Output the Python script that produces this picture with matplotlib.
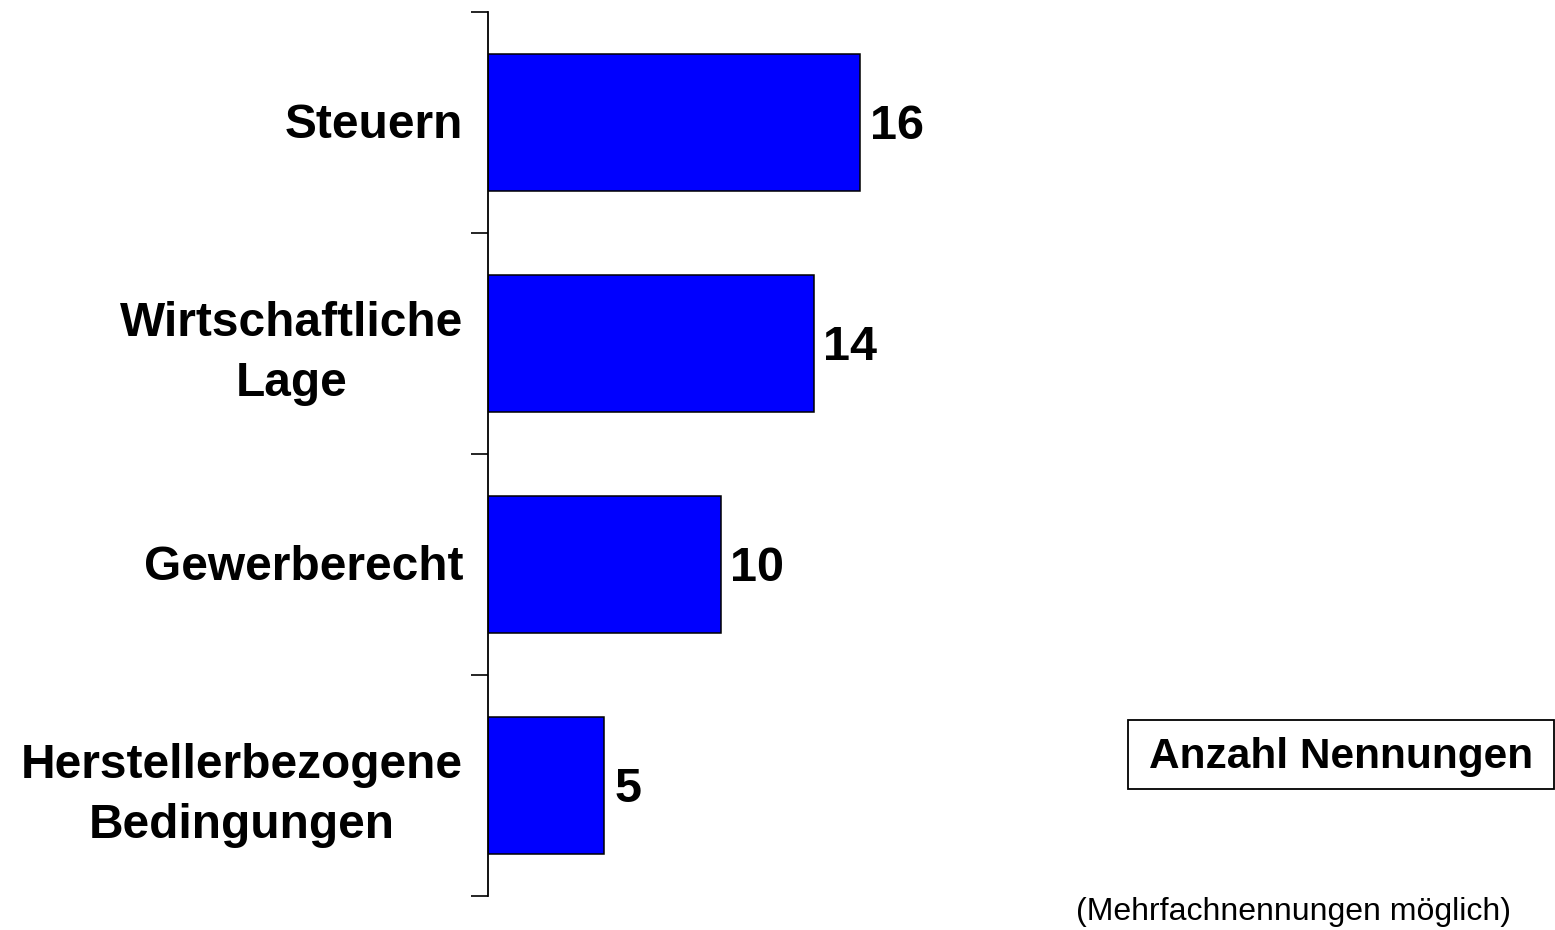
import matplotlib.pyplot as plt
from matplotlib.patches import Rectangle

categories = ["Steuern", "Wirtschaftliche\nLage", "Gewerberecht", "Herstellerbezogene\nBedingungen"]
values = [16, 14, 10, 5]
box_label = "Anzahl Nennungen"
note = "(Mehrfachnennungen möglich)"

plt.rcParams['font.family'] = ['Liberation Sans', 'DejaVu Sans']

W, H = 1555, 930
fig = plt.figure(figsize=(W / 100, H / 100), dpi=100)
# axes: left spine at x=488, from y=12 to y=896
ax = fig.add_axes([488 / W, 1 - 896 / H, (W - 488) / W, (896 - 12) / H])

pos = list(range(len(categories)))
ax.barh(pos, values, height=0.62, color='#0000FF', edgecolor='black', linewidth=1.1)
ax.set_xlim(0, (W - 488) / 23.25)
ax.set_ylim(len(categories) - 0.5, -0.5)

for p, v in zip(pos, values):
    ax.text(v + 0.43, p + 0.02, str(v), ha='left', va='center', fontsize=35, fontweight='bold')

# category boundary ticks, labels on minor ticks
ax.set_yticks([p - 0.5 for p in pos] + [len(categories) - 0.5])
ax.set_yticklabels([])
ax.set_yticks([p - 0.01 for p in pos], minor=True)
ax.set_yticklabels(categories, minor=True, fontsize=34.5, fontweight='bold')
for lab in ax.get_yticklabels(minor=True):
    lab.set_multialignment('center')
    lab.set_linespacing(1.42)
ax.tick_params(axis='y', which='major', length=12.5, width=1.2, direction='out')
ax.tick_params(axis='y', which='minor', length=0, pad=18)
ax.set_xticks([])
for s in ['top', 'right', 'bottom']:
    ax.spines[s].set_visible(False)
ax.spines['left'].set_linewidth(1.3)

# legend-like box
fig.patches.append(Rectangle((1128 / W, 1 - 789 / H), 426 / W, 69 / H, transform=fig.transFigure,
                             facecolor='white', edgecolor='black', linewidth=1.3))
fig.text(1341 / W, 1 - 757 / H, box_label, ha='center', va='center', fontsize=30.5, fontweight='bold')
fig.text(1293 / W, 1 - 912 / H, note, ha='center', va='center', fontsize=23)

fig.savefig("out.png", dpi=100)
